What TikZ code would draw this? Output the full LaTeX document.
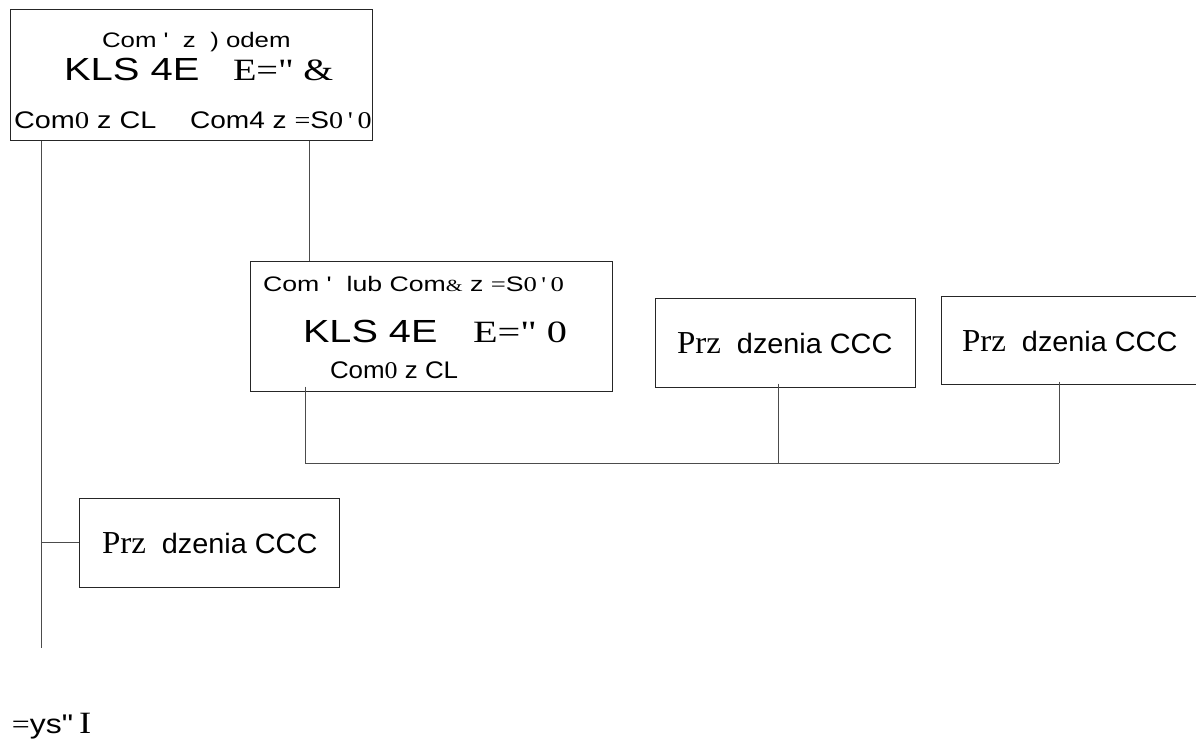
\documentclass[tikz,border=0pt]{standalone}
\usepackage{graphicx}
\usepackage{fontspec}
\setmainfont{Liberation Serif}
\newfontfamily\SA{Liberation Sans}
\newfontfamily\SE{Liberation Serif}
\newcommand\fs[1]{\fontsize{#1}{#1}\selectfont}
\newcommand\q{\textquotesingle}
\newcommand\dq{\textquotedbl}
\newcommand\sx[2]{\scalebox{#1}[1]{#2}}
\tikzset{
  boxnode/.style={draw=black!85, line width=1pt, inner sep=0pt, anchor=center},
  conn/.style={draw=black!70, line width=1pt},
  txt/.style={anchor=base west, inner sep=0pt, outer sep=0pt},
}
\begin{document}
\begin{tikzpicture}[x=1pt,y=-1pt]
\useasboundingbox (0,0) rectangle (1196,742);
\clip (0,0) rectangle (1196,742);
% boxes
\node[boxnode, minimum width=362pt, minimum height=131pt] (b1) at (191,74.5) {};
\node[boxnode, minimum width=362pt, minimum height=130pt] (b2) at (431,326) {};
\node[boxnode, minimum width=260pt, minimum height=89pt] (b3) at (785,342.5) {};
\node[boxnode, minimum width=259pt, minimum height=88pt] (b4) at (1070.5,340) {};
\node[boxnode, minimum width=260pt, minimum height=89pt] (b5) at (209,542.5) {};
% texts box1
\node[txt] (t11) at (102,47) {\sx{1.23}{\SA\fs{21}Com \q\ \ z \ ) odem}};
\node[txt] (t12) at (64,80) {\sx{1.25}{\SA\fs{32}KLS 4E}};
\node[txt] (t13) at (233,80) {\sx{1.24}{\SE\fs{31}E=\dq\ \&}};
\node[txt] (t14) at (14,128) {\sx{1.2}{\fs{24}{\SA Com}{\SE 0}{\SA\ z CL}}};
\node[txt] (t15) at (190,128) {\sx{1.17}{\fs{24}{\SA Com4 z }{\SE =}{\SA S}{\SE 0\,\q\,0}}};
% texts box2
\node[txt] (t21) at (263,291) {\sx{1.27}{\fs{21}{\SA Com \q\ \ lub Com}{\SE\fs{17}\&}{\SA\ z }{\SE =}{\SA S}{\SE 0\,\q\,0}}};
\node[txt] (t22) at (303,342) {\sx{1.24}{\SA\fs{32}KLS 4E}};
\node[txt] (t23) at (473,342) {\sx{1.3}{\SE\fs{31}E=\dq\ 0}};
\node[txt] (t24) at (330,378) {\sx{1.08}{\fs{24}{\SA Com}{\SE 0}{\SA\ z CL}}};
% texts other boxes
\node[txt] (t3) at (677,353) {\sx{1.03}{{\SE\fs{32}Prz}{\SA\fs{28}\ \ dzenia CCC}}};
\node[txt] (t4) at (962,351) {\sx{1.03}{{\SE\fs{32}Prz}{\SA\fs{28}\ \ dzenia CCC}}};
\node[txt] (t5) at (102,553) {\sx{1.03}{{\SE\fs{32}Prz}{\SA\fs{28}\ \ dzenia CCC}}};
\node[txt] (cap) at (12,733) {\sx{1.18}{{\SE\fs{27}=}{\SA\fs{27}ys\dq}\ \ {\SE\fs{31}I}}};
% connector coordinates
\coordinate (lend) at (41,648);
\coordinate (rx) at (309,0);
\coordinate (bus1) at (305,463);
\coordinate (busr) at (1059,463);
\coordinate (bx3) at (778,463);
% connectors
\draw[conn] (lend |- b1.south) -- (lend);
\draw[conn] (lend |- b5.west) -- (b5.west);
\draw[conn] (rx |- b1.south) -- (rx |- b2.north);
\draw[conn] ([yshift=5pt]bus1 |- b2.south) -- (bus1) -- (busr);
\draw[conn] ([yshift=4pt]bx3 |- b3.south) -- (bx3);
\draw[conn] ([yshift=3pt]busr |- b4.south) -- (busr);
\end{tikzpicture}
\end{document}
